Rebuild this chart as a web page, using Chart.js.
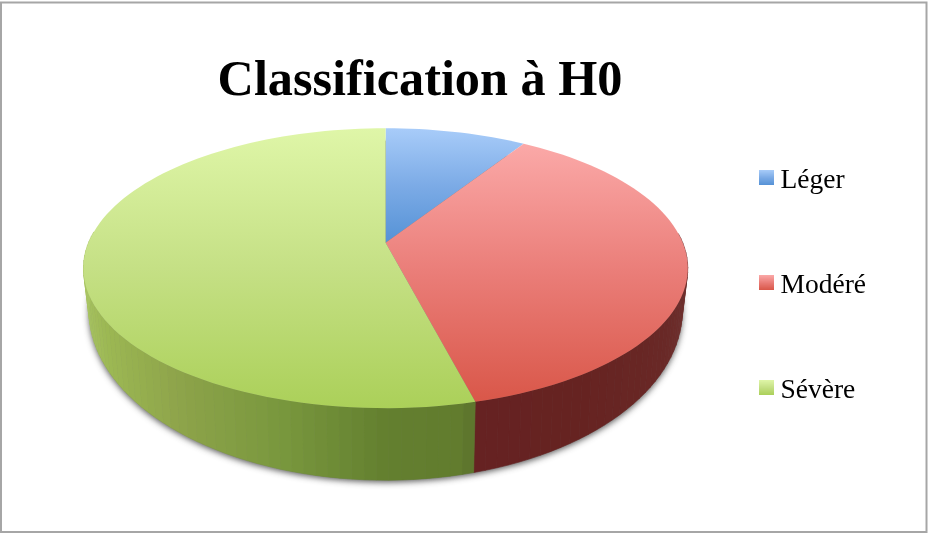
<!DOCTYPE html>
<html>
<head>
<meta charset="utf-8">
<title>Classification à H0</title>
<script src="https://cdn.jsdelivr.net/npm/chart.js@4"></script>
<style>
  html, body { margin: 0; padding: 0; background: #fff; }
  canvas { display: block; }
</style>
</head>
<body>
<canvas id="pieChart" width="928" height="533"></canvas>
<script>
// ===== DATA =====
const categories = ["Léger", "Modéré", "Sévère"];
const values = [9, 37, 54];
const chartTitle = "Classification à H0";

// ===== STYLES =====
// top face gradients, one list of stops per slice
const faceColors = [
  ["#a8ccf9", "#7cabe6", "#5592d6"],
  ["#fba9a8", "#ea7d78", "#d95749"],
  ["#dff6a8", "#c5e085", "#abd059"]
];
// side wall colours along the horizontal position (-1 left, 1 right)
const wallColors = [
  [[-1, "#4f78aa"], [1, "#3b5f8a"]],
  [[0.25, "#662222"], [0.55, "#662321"], [0.85, "#692826"], [1, "#703331"]],
  [[-1, "#aac565"], [-0.85, "#9cb853"], [-0.6, "#8ea44a"], [-0.28, "#78973d"], [0, "#637f2f"], [0.2, "#627c2e"], [0.3, "#56692b"]]
];

// disc shape in units of the pie radius, k gives the perspective
const K = -0.1815;
const topFace = { a: 1.765, b: 0.804, dy: -0.2426 };
const lowFace = { a: 1.733, b: 0.975, dy: -0.0237 };

function project(el, face, angle) {
  const x = Math.cos(angle), y = Math.sin(angle);
  const w = 1 + K * y;
  const r = el.outerRadius;
  return [el.x + r * face.a * x / w, el.y + r * face.dy + r * face.b * y / w];
}

function hexToRgb(h) {
  return [1, 3, 5].map(i => parseInt(h.substr(i, 2), 16));
}

function wallColor(stops, u) {
  if (u <= stops[0][0]) return stops[0][1];
  for (let i = 1; i < stops.length; i++) {
    if (u <= stops[i][0]) {
      const t = (u - stops[i - 1][0]) / (stops[i][0] - stops[i - 1][0]);
      const a = hexToRgb(stops[i - 1][1]), b = hexToRgb(stops[i][1]);
      return "rgb(" + a.map((v, j) => Math.round(v + (b[j] - v) * t)).join(",") + ")";
    }
  }
  return stops[stops.length - 1][1];
}

// ===== 3D PIE ELEMENT =====
class Arc3d extends Chart.ArcElement {
  static id = "arc3d";

  draw(ctx) {
    const idx = this.$context.dataIndex;
    const step = Math.PI / 90;
    const n = Math.max(2, Math.ceil((this.endAngle - this.startAngle) / step));
    const da = (this.endAngle - this.startAngle) / n;

    // side wall, only the part facing us
    for (let i = 0; i < n; i++) {
      const a0 = this.startAngle + i * da, a1 = a0 + da;
      if (Math.sin(a1) < -0.05 && Math.sin(a0) < -0.05) continue;
      const col = wallColor(wallColors[idx], Math.cos((a0 + a1) / 2));
      const p = [project(this, topFace, a0), project(this, topFace, a1),
                 project(this, lowFace, a1), project(this, lowFace, a0)];
      ctx.beginPath();
      p.forEach((q, j) => j ? ctx.lineTo(q[0], q[1]) : ctx.moveTo(q[0], q[1]));
      ctx.closePath();
      ctx.fillStyle = col;
      ctx.strokeStyle = col;
      ctx.lineWidth = 0.6;
      ctx.fill();
      ctx.stroke();
    }

    // top face
    const pts = [[this.x, this.y + this.outerRadius * topFace.dy]];
    for (let i = 0; i <= n; i++) pts.push(project(this, topFace, this.startAngle + i * da));
    const ys = pts.map(q => q[1]);
    const grad = ctx.createLinearGradient(0, Math.min(...ys), 0, Math.max(...ys));
    faceColors[idx].forEach((c, i, all) => grad.addColorStop(i / (all.length - 1), c));
    ctx.beginPath();
    pts.forEach((q, j) => j ? ctx.lineTo(q[0], q[1]) : ctx.moveTo(q[0], q[1]));
    ctx.closePath();
    ctx.fillStyle = grad;
    ctx.fill();
  }
}

class Pie3dController extends Chart.PieController {
  static id = "pie3d";
  static defaults = { dataElementType: "arc3d" };
}

Chart.register(Arc3d, Pie3dController);

// small gradient squares for the legend, empty strip below lifts them level with the text
function legendSwatch(stops) {
  const c = document.createElement("canvas");
  c.width = 15;
  c.height = 21;
  const g = c.getContext("2d");
  const grad = g.createLinearGradient(0, 0, 0, 15);
  stops.forEach((s, i) => grad.addColorStop(i / (stops.length - 1), s));
  g.fillStyle = grad;
  g.fillRect(0, 0, 15, 15);
  return c;
}

// ===== PLUGINS =====
const framePlugin = {
  id: "frame",
  beforeDraw(chart) {
    const ctx = chart.ctx;
    ctx.save();
    ctx.strokeStyle = "#a6a6a6";
    ctx.lineWidth = 2;
    ctx.strokeRect(1, 2.5, 925.5, 529.5);
    ctx.restore();
  },
  afterLayout(chart) {
    // title sits left of the canvas centre, legend is level with the disc
    chart.titleBlock.left -= 59.5;
    chart.titleBlock.right -= 59.5;
    chart.legend.top += 59;
    chart.legend.bottom += 59;
  }
};

const shadowPlugin = {
  id: "discShadow",
  beforeDatasetsDraw(chart) {
    const el = chart.getDatasetMeta(0).data[0];
    const ctx = chart.ctx;
    ctx.save();
    ctx.shadowColor = "rgba(60,60,60,0.85)";
    ctx.shadowBlur = 6;
    ctx.shadowOffsetX = 0;
    ctx.shadowOffsetY = 2;
    ctx.fillStyle = "#777";
    ctx.beginPath();
    for (let i = 0; i < 180; i++) {
      const q = project(el, lowFace, i * Math.PI / 90);
      i ? ctx.lineTo(q[0], q[1]) : ctx.moveTo(q[0], q[1]);
    }
    ctx.closePath();
    ctx.fill();
    ctx.restore();
  }
};

// ===== CHART =====
new Chart(document.getElementById("pieChart"), {
  type: "pie3d",
  data: {
    labels: categories,
    datasets: [{ data: values }]
  },
  plugins: [framePlugin, shadowPlugin],
  options: {
    responsive: false,
    animation: false,
    layout: { padding: { left: 83, right: 52, top: 0, bottom: 80 } },
    plugins: {
      tooltip: { enabled: false },
      title: {
        display: true,
        text: chartTitle,
        color: "#000",
        font: { family: "'Liberation Serif'", size: 50.25, weight: "bold" },
        padding: { top: 52, bottom: 2 }
      },
      legend: {
        position: "right",
        labels: {
          color: "#000",
          font: { family: "'Liberation Serif'", size: 27.5 },
          usePointStyle: true,
          boxWidth: 1,
          padding: 77.5,
          generateLabels() {
            return categories.map((c, i) => ({
              text: c,
              pointStyle: legendSwatch(faceColors[i]),
              hidden: false,
              index: i
            }));
          }
        }
      }
    }
  }
});
</script>
</body>
</html>
